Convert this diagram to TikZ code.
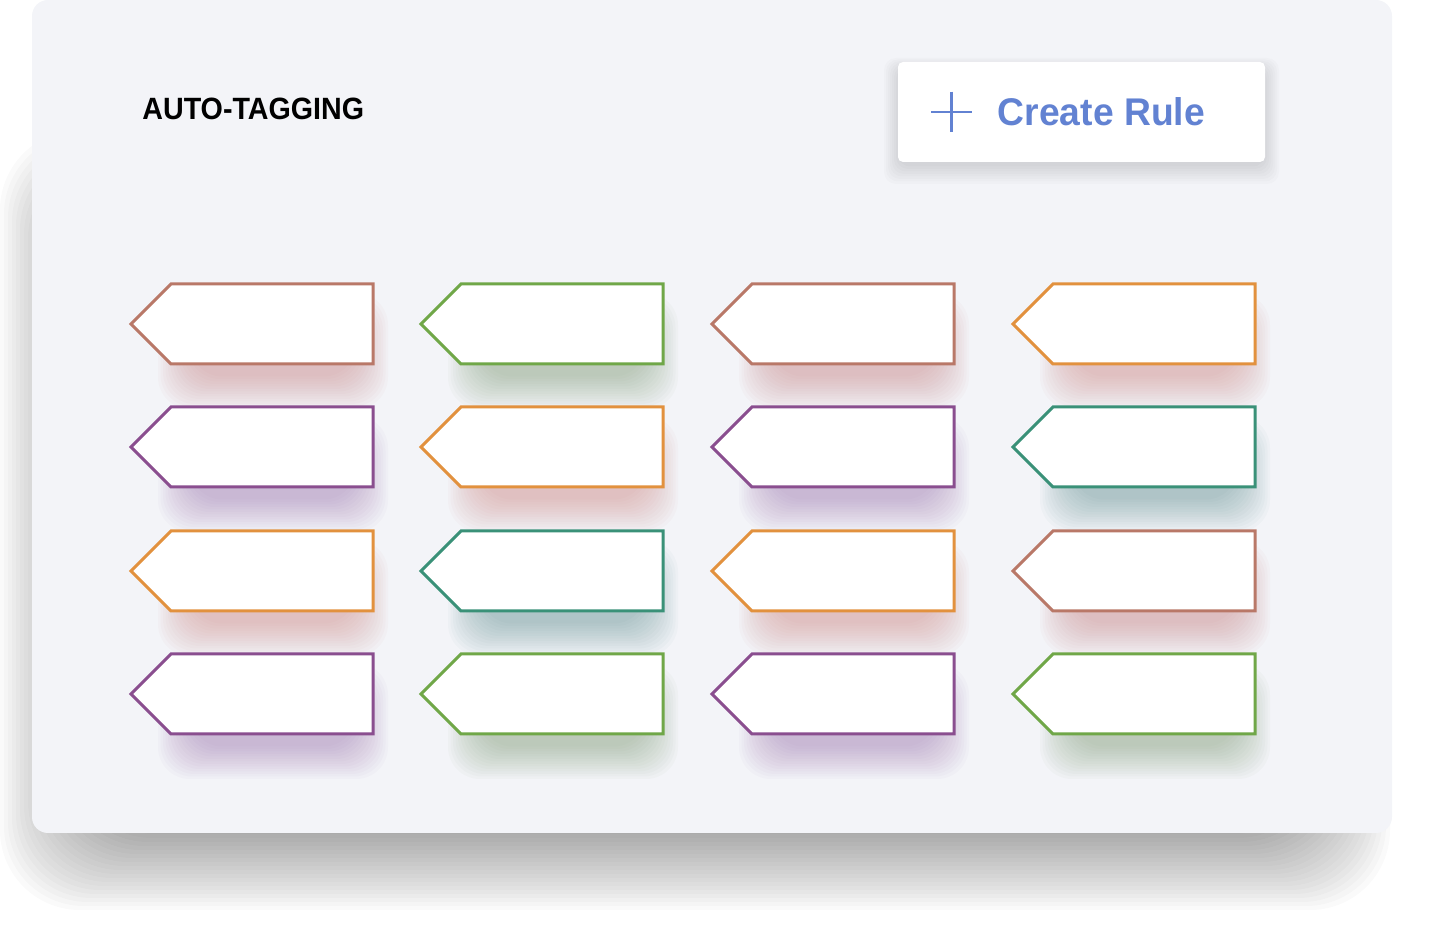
\documentclass[tikz,border=0pt]{standalone}
\usepackage{fontspec}
\setmainfont{Liberation Sans}
\usepackage{graphicx}
\usetikzlibrary{positioning}
\definecolor{panelbg}{RGB}{243,244,248}
\definecolor{rulblue}{RGB}{98,130,210}
\definecolor{tbrown}{RGB}{185,120,104}
\definecolor{tgreen}{RGB}{112,167,72}
\definecolor{torange}{RGB}{226,145,62}
\definecolor{tpurple}{RGB}{138,78,143}
\definecolor{tteal}{RGB}{58,145,120}
\definecolor{sbrown}{RGB}{200,120,120}
\definecolor{sgreen}{RGB}{115,150,105}
\definecolor{sorange}{RGB}{205,125,120}
\definecolor{spurple}{RGB}{150,105,170}
\definecolor{steal}{RGB}{85,135,135}
\tikzset{
  tag/.style={draw=#1,fill=white,line width=1.5pt,miter limit=10},
  tagshadow/.style={fill=#1,opacity=0.036,rounded corners=16pt},
  panelshadow/.style={fill=black,opacity=0.02,rounded corners=40pt},
}

\begin{document}
\begin{tikzpicture}[x=0.5pt,y=-0.5pt]
   \useasboundingbox (0,0) rectangle (1432,930);
   % panel and its shadow
   \foreach \k in {1,...,25}{
   \fill[panelshadow] (100-4*\k,230-4*\k) rectangle (1290+4*\k,810+4*\k);
   }
   \fill[panelbg,rounded corners=8pt] (32,0) rectangle (1392,833);

   \node[anchor=base west,inner sep=0pt] (title) at (142,119.5)
     {\scalebox{0.93}[1]{\fontsize{15.4pt}{18pt}\selectfont\bfseries AUTO-TAGGING}};

   % create rule button
   \foreach \k in {1,...,8}{
   \fill[black,opacity=0.014,rounded corners=6pt] (900-2*\k,70-1.5*\k) rectangle (1263+2*\k,164+2.5*\k);
   }
   \fill[white,rounded corners=2.5pt] (898,62) rectangle (1265,162);
   \coordinate (plusl) at (931,111.7);
   \coordinate (plusr) at (972,111.7);
   \coordinate (plust) at (951.5,91.7);
   \coordinate (plusb) at (951.5,131.7);
   \draw[rulblue,line width=1.1pt] (plusl) -- (plusr) (plust) -- (plusb);
   \node[anchor=base west,inner sep=0pt,text=rulblue] (rule) at (997.5,125.3)
     {\scalebox{0.965}[1]{\fontsize{19.3pt}{22pt}\selectfont\bfseries Create Rule}};

   % tags
   \foreach \tx/\ty/\c/\s in {
     131/284/tbrown/sbrown, 421/284/tgreen/sgreen, 712/284/tbrown/sbrown, 1013/284/torange/sorange,
     131/407/tpurple/spurple, 421/407/torange/sorange, 712/407/tpurple/spurple, 1013/407/tteal/steal,
     131/531/torange/sorange, 421/531/tteal/steal, 712/531/torange/sorange, 1013/531/tbrown/sbrown,
     131/654/tpurple/spurple, 421/654/tgreen/sgreen, 712/654/tpurple/spurple, 1013/654/tgreen/sgreen}{
   \foreach \k in {1,...,14}{
   \fill[tagshadow=\s] (\tx+62-2.5*\k,\ty+44-2.5*\k) rectangle (\tx+222+2.5*\k,\ty+90+2.5*\k);
   }
   \draw[tag=\c] (\tx,\ty+40) -- (\tx+40,\ty) -- (\tx+242,\ty) -- (\tx+242,\ty+80)
     -- (\tx+40,\ty+80) -- cycle;
   }
\end{tikzpicture}
\end{document}
